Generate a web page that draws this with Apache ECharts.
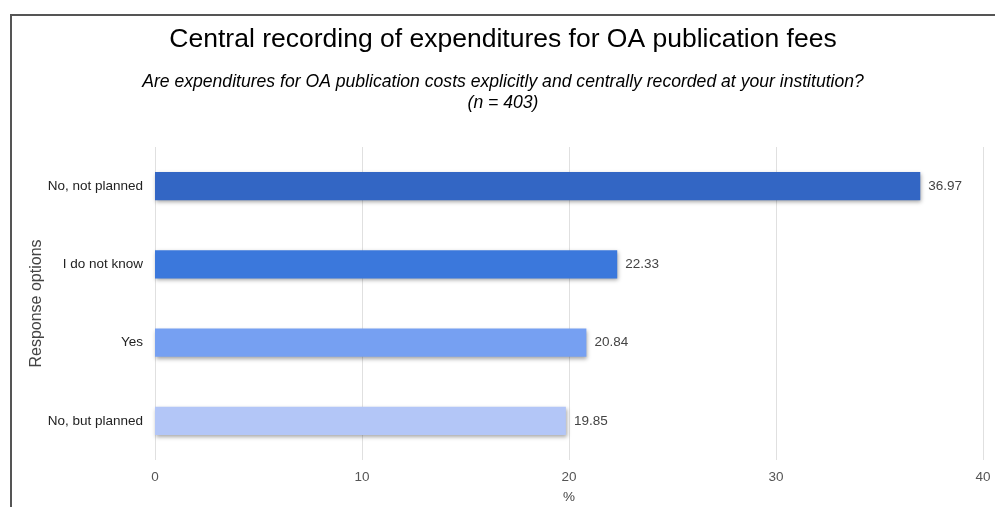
<!DOCTYPE html>
<html>
<head>
<meta charset="utf-8">
<script src="https://cdn.jsdelivr.net/npm/echarts@6/dist/echarts.min.js"></script>
<style>
html,body{margin:0;padding:0;background:#fff;}
#frame{position:absolute;left:10px;top:14px;width:990px;height:500px;border-left:2px solid #555;border-top:2px solid #555;}
#chart{position:absolute;left:0;top:0;width:995px;height:507px;}
</style>
</head>
<body>
<div id="frame"></div>
<div id="chart"></div>
<script>
var categories = ["No, but planned", "Yes", "I do not know", "No, not planned"];
var values = [19.85, 20.84, 22.33, 36.97];
var barColors = ["#b3c6f7", "#76a0f2", "#3b78dc", "#3366c4"];
var xTicks = [0, 10, 20, 30, 40];

var chart = echarts.init(document.getElementById('chart'), null, {renderer: 'canvas'});
var option = {
  backgroundColor: 'transparent',
  animation: false,
  title: [{
    text: 'Central recording of expenditures for OA publication fees',
    left: 498, top: 21, textAlign: 'center',
    textStyle: {fontFamily: 'Liberation Sans', fontSize: 26.5, fontWeight: 'normal', color: '#000'}
  }, {
    text: 'Are expenditures for OA publication costs explicitly and centrally recorded at your institution?\n(n = 403)',
    left: 498, top: 67, textAlign: 'center',
    textStyle: {fontFamily: 'Liberation Sans', fontSize: 17.6, fontStyle: 'italic', fontWeight: 'normal', color: '#000', lineHeight: 21}
  }],
  grid: {left: 155, right: 12, top: 147, bottom: 47, containLabel: false, outerBoundsMode: 'none'},
  xAxis: {
    type: 'value', min: 0, max: 40, interval: 10,
    name: '%', nameLocation: 'middle', nameGap: 30, nameMoveOverlap: false,
    nameTextStyle: {fontFamily: 'Liberation Sans', fontSize: 13.5, color: '#444'},
    axisLine: {show: false}, axisTick: {show: false},
    axisLabel: {fontFamily: 'Liberation Sans', fontSize: 13.5, color: '#555', margin: 10,
      formatter: function(v){ return xTicks.indexOf(v) >= 0 ? String(v) : ''; }},
    splitLine: {show: true, lineStyle: {color: '#e0e0e0', width: 1}}
  },
  yAxis: {
    type: 'category', data: categories,
    name: 'Response options', nameLocation: 'middle', nameGap: 110, nameRotate: 90, nameMoveOverlap: false,
    nameTextStyle: {fontFamily: 'Liberation Sans', fontSize: 16, color: '#444'},
    axisLine: {show: false}, axisTick: {show: false},
    axisLabel: {fontFamily: 'Liberation Sans', fontSize: 13.5, color: '#222', margin: 12}
  },
  series: [{
    type: 'bar',
    barWidth: '36%',
    data: values.map(function(v, i){ return {value: v, itemStyle: {color: barColors[i]}}; }),
    itemStyle: {shadowColor: 'rgba(0,0,0,0.35)', shadowBlur: 4, shadowOffsetX: 1, shadowOffsetY: 2},
    label: {show: true, position: 'right', distance: 8, fontFamily: 'Liberation Sans', fontSize: 13.5, color: '#444',
      formatter: function(p){ return p.value.toFixed(2); }}
  }]
};
chart.setOption(option);
</script>
</body>
</html>
